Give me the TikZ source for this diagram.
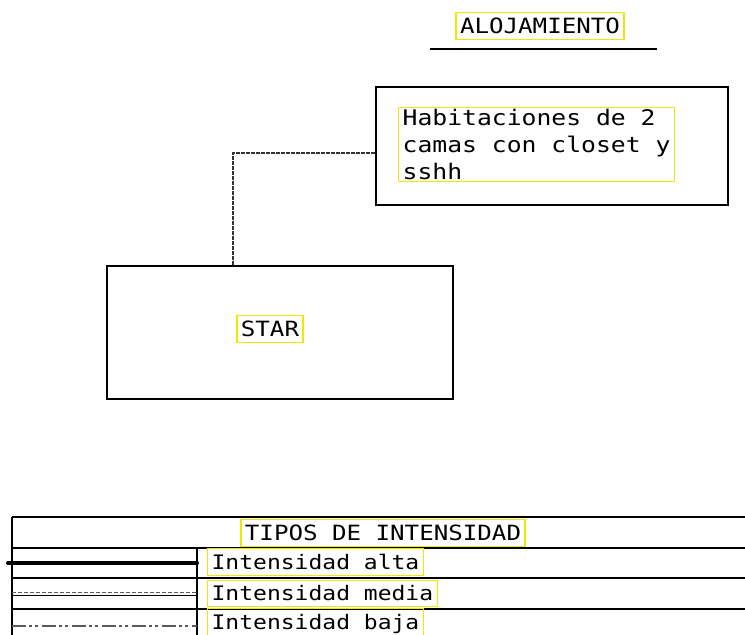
\documentclass[tikz,border=0pt]{standalone}
\usepackage{fontspec}
\newfontfamily\cadfont[FakeStretch=1.15]{DejaVu Sans Mono}
\newcommand\cadsize[1]{\cadfont\fontsize{#1}{27}\selectfont\spaceskip 0.69em\relax}
\definecolor{cadyellow}{RGB}{240,232,0}
\definecolor{cadgray}{RGB}{90,90,90}
\begin{document}
\begin{tikzpicture}[x=1pt,y=-1pt,
    box/.style={draw,line width=1.5pt,minimum width=#1},
    tag/.style={draw=cadyellow,line width=1.3pt,inner xsep=4pt,inner ysep=5.5pt,
      font=\cadsize{20}},
    bigtag/.style={tag,font=\cadsize{21}},
    link/.style={draw=black!80,line width=1.5pt,dash pattern=on 4pt off 1pt},
    rule/.style={line width=1.5pt}]
    \useasboundingbox (0,0) rectangle (745,635);
    \node[bigtag] (aloj) at (540,26) {ALOJAMIENTO};
    \draw[line width=2pt] (430,49) -- (657,49);
    \node[box=352pt,minimum height=118pt] (hab) at (552,146) {};
    \node[tag,font=\cadsize{21.5},align=left,anchor=north west,inner ysep=1.5pt]
      (habtxt) at (398,107) {Habitaciones de 2\\camas con closet y\\sshh};
    \node[box=346pt,minimum height=133pt] (star) at (280,332.5) {};
    \node[bigtag] (startxt) at (270,329) {STAR};
    \coordinate (elbow) at (233,153);
    \draw[link] (elbow -| hab.west) -- (elbow) -- (elbow |- star.north);
    \draw[rule] (12,517) -- (745,517);
    \draw[rule] (12,548) -- (745,548);
    \draw[rule] (12,578) -- (745,578);
    \draw[line width=2.5pt] (12,609) -- (745,609);
    \draw[rule] (12,517) -- (12,635);
    \draw[line width=2pt] (197,548) -- (197,635);
    \node[bigtag] (tipos) at (383,533) {TIPOS DE INTENSIDAD};
    \node[tag,anchor=west] (alta) at (207,562) {Intensidad alta};
    \node[tag,anchor=west] (media) at (207,593.5) {Intensidad media};
    \node[tag,anchor=west] (baja) at (207,624) {Intensidad baja};
    \draw[line width=4pt,line cap=round] (8,563) -- (197,563);
    \draw[cadgray,line width=1pt,dash pattern=on 4pt off 2pt] (12,592.5) -- (197,592.5);
    \draw[line width=1.2pt] (12,595.5) -- (197,595.5);
    \draw[cadgray,line width=1.6pt,
      dash pattern=on 14pt off 3pt on 3pt off 3pt on 3pt off 4pt] (12,626) -- (197,626);
\end{tikzpicture}
\end{document}
